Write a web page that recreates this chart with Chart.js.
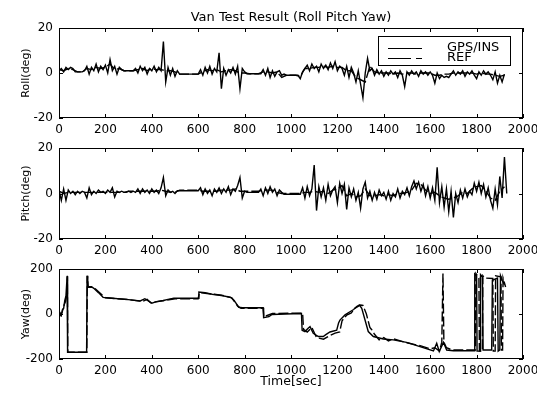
<!DOCTYPE html>
<html>

<head>
  <title>Van Test Result</title>
  <script src="https://cdn.jsdelivr.net/npm/chart.js"></script>
  <style>
    body { margin: 0; background: #fff; }
    #wrap { position: relative; width: 537px; height: 398px; }
    canvas { position: absolute; left: 0; }
  </style>
</head>

<body>
  <div id="wrap">
    <canvas id="rollChart" width="537" height="140" style="top:0px"></canvas>
    <canvas id="pitchChart" width="537" height="120" style="top:140px"></canvas>
    <canvas id="yawChart" width="537" height="138" style="top:260px"></canvas>
  </div>
  <script>
    // time grid for roll / pitch, 10 s steps (GPS/INS) and 20 s steps (REF)
    var time10 = [
      0, 10, 20, 30, 40, 50, 60, 70, 80, 90,
      100, 110, 120, 130, 140, 150, 160, 170, 180, 190,
      200, 210, 220, 230, 240, 250, 260, 270, 280, 290,
      300, 310, 320, 330, 340, 350, 360, 370, 380, 390,
      400, 410, 420, 430, 440, 450, 460, 470, 480, 490,
      500, 510, 520, 530, 540, 550, 560, 570, 580, 590,
      600, 610, 620, 630, 640, 650, 660, 670, 680, 690,
      700, 710, 720, 730, 740, 750, 760, 770, 780, 790,
      800, 810, 820, 830, 840, 850, 860, 870, 880, 890,
      900, 910, 920, 930, 940, 950, 960, 970, 980, 990,
      1000, 1010, 1020, 1030, 1040, 1050, 1060, 1070, 1080, 1090,
      1100, 1110, 1120, 1130, 1140, 1150, 1160, 1170, 1180, 1190,
      1200, 1210, 1220, 1230, 1240, 1250, 1260, 1270, 1280, 1290,
      1300, 1310, 1320, 1330, 1340, 1350, 1360, 1370, 1380, 1390,
      1400, 1410, 1420, 1430, 1440, 1450, 1460, 1470, 1480, 1490,
      1500, 1510, 1520, 1530, 1540, 1550, 1560, 1570, 1580, 1590,
      1600, 1610, 1620, 1630, 1640, 1650, 1660, 1670, 1680, 1690,
      1700, 1710, 1720, 1730, 1740, 1750, 1760, 1770, 1780, 1790,
      1800, 1810, 1820, 1830, 1840, 1850, 1860, 1870, 1880, 1890,
      1900, 1910, 1920, 1930
    ];
    var time20 = [
      0, 20, 40, 60, 80, 100, 120, 140, 160, 180,
      200, 220, 240, 260, 280, 300, 320, 340, 360, 380,
      400, 420, 440, 460, 480, 500, 520, 540, 560, 580,
      600, 620, 640, 660, 680, 700, 720, 740, 760, 780,
      800, 820, 840, 860, 880, 900, 920, 940, 960, 980,
      1000, 1020, 1040, 1060, 1080, 1100, 1120, 1140, 1160, 1180,
      1200, 1220, 1240, 1260, 1280, 1300, 1320, 1340, 1360, 1380,
      1400, 1420, 1440, 1460, 1480, 1500, 1520, 1540, 1560, 1580,
      1600, 1620, 1640, 1660, 1680, 1700, 1720, 1740, 1760, 1780,
      1800, 1820, 1840, 1860, 1880, 1900, 1920
    ];

    // Roll (deg)
    var rollGps = [
      1, 2, 0.5, 2.5, 1.5, 2.5, 2, 0.5, 0.5, 0.5,
      0.5, 1, 3, -0.5, 2.5, 1, 4, 0.5, 3, 1.5,
      3.5, 0, 6, 1, 3, -0.5, 2.5, 1.5, 1, 1,
      1, 1, 1, 2, 0, 3, 1, 2.5, -0.5, 2,
      1, 3, 0.5, 2.5, 1, 14, -4, 2.5, -1, 2,
      -1.5, 1, -0.5, -0.5, -0.5, -0.5, -0.5, -0.5, -0.5, -0.5,
      -0.5, 1.5, -1, 2.5, 0, 3, -0.5, 2, 0.5, 9,
      -7, 2, -1, 1.5, 0, 2.5, -0.5, 3, -7, 2,
      0.5, -0.3, -0.3, -0.3, -0.3, -0.3, -0.3, -0.3, 1.5, -1,
      2, -2, 1, -1.5, 0.5, 1, -1, -0.5, -1, -1,
      -1, -1, -1, -1, -2.5, 0.5, 2, 3.5, 1, 4,
      2, 3, 0.5, 4, 2, 3.5, 1.5, 4.5, 2, 5,
      1, 3, 2, -1, 3, -2, 2.5, 0, -4, 1,
      -5, -11, 0, 6.5, 1, 2, -1, 1.5, -0.5, 1,
      -1.5, 0.5, -1, 1, -0.5, 0.5, -2, 1, -1, -6,
      0.5, -1, 1, -0.5, 0.5, -1.5, 1, -0.5, 0.5, -1,
      0.5, -1, -4.5, 0, -2.5, -1, -2, -1.5, -2, -0.5,
      1, -1, 0.5, -0.5, 1, -1.5, 0.5, -0.5, 1, -1,
      -2.5, 0.5, -1, 1, -0.5, 0.5, -1, -3, 0.5, -4.5,
      -1, -4, -0.5
    ];
    var rollRef = [
      1.5, 1, 2, 1.5, 0.5, 0.5, 2, 1.5, 2.5, 2,
      2.5, 4, 1.5, 2, 1, 1, 1, 1.5, 2, 1,
      2, 1.5, 1.5, 1, 1, 0.5, -0.5, -0.5, -0.5, -0.5,
      -0.5, 0.5, 1.5, 1, 1.5, 0.5, 1, 1.5, 1, 0,
      0, -0.3, -0.3, -0.3, 0.5, 0.5, 0, 0.5, -2, -1,
      -1, -1, -1.5, 2, 2, 2.5, 2.5, 3, 2.5, 3,
      2.5, 2.5, 1, 1, -2, -3, -4, 3, 0.5, 0,
      0, 0, -0.5, 0, -0.5, 0, 0, -0.5, 0, 0,
      0, -1, -1, -0.5, -0.5, 0, 0, 0, 0, 0,
      -0.5, 0, -0.5, -0.5, -1, -1.5, -1
    ];

    // Pitch (deg)
    var pitchGps = [
      1.5, -3, 2, -3, 1.5, 0, 1, -0.5, 1, 0,
      1, 0.5, -2, 2.5, -0.5, 1, 0, 1.5, 0.5, 1,
      0, 1.5, 0.5, 2.5, -1.5, 1, 0.5, 1, 0.5, 0.5,
      1, 0.5, 1, 0.5, 2, 0, 2, 0.5, 1.5, 0,
      2, 0.5, 1.5, 0, 2.5, 7, -1, 1.5, 0.5, 1,
      0, 1.2, 1.2, 1.2, 1.2, 1.2, 1.2, 1.2, 1.2, 1.2,
      1.2, 2.5, -0.5, 2, 0, 1.5, -1, 2, 0.5, 2.5,
      0, 2, 0.5, 3, -0.5, 2, 1, 3.5, 7, -2,
      1, 0.5, 0.5, 0.5, 0.5, 0.5, 0.5, 2, -1, 2.5,
      0, 3, 0.5, 2, -1, 1.5, 0.5, -0.3, -0.3, -0.3,
      -0.3, -0.3, -0.3, -0.3, -0.3, 2.5, -2, 3, -1, 2,
      12.5, -7.5, 3, -1.5, 2.5, -3, 4, -1, 1.5, 3,
      -4, 4.5, 0, 4, -7, 2.5, -1.5, 2, -3, 0.5,
      -6.5, 2, 5, -2, 1, -3, 0.5, -2.5, 1.5, -1,
      0.5, -2.5, 1, -3, 0, -1.5, 2, -2, 1, -0.5,
      2.5, -1, 3, 5.5, 2, 5, 1, 4, -1, 3,
      -2, 2.5, -3, 11.5, -4, 3, -6, 2, -8, 1,
      -10.5, 0, -4, 1.5, -2, 2, -1.5, 1, -0.5, 4.5,
      1, 5, 0, 4, -1.5, 2.5, -3, -6.5, 2, -5,
      7.5, -2, 16, 0
    ];
    var pitchRef = [
      1, 0, 0.5, 0.5, 0.5, 0.5, 0.5, 0.5, 0.5, 0.5,
      0.5, 0.5, 0.5, 0.5, 0.5, 1, 1, 1, 1, 1,
      1, 1, 1.5, 1, 0.5, 0.5, 1.5, 1.5, 1.5, 1.5,
      1.5, 1, 1, 1, 1, 1.5, 1.5, 1.5, 2, 1,
      1, 1, 1, 1, 1.5, 1.5, 1.5, 0.5, 0, 0,
      0, 0, 0, 0.5, 0.5, 1, 0.5, 1, 0, 1.5,
      2, 3.5, -1, 0, -1.5, -1, 2, -1, -1, -0.5,
      -1, -0.5, -1, 0, 0, 0.5, 1.5, 4.5, 4, 1.5,
      0, 0.5, -1, -2, -2.5, -2, -1, 0.5, 0, 2,
      3, 3.5, 1, -2, -3, 1, 3
    ];

    // Yaw (deg), uneven time stamps because of the +/-180 wraps
    var yawGpsTime = [
      0, 5, 10, 15, 20, 25, 30, 35, 37, 60, 90, 119, 121, 124, 140, 150, 170, 190,
      230, 290, 350, 370, 380, 400, 420, 450, 470, 495, 600, 603, 630, 660, 700,
      740, 755, 765, 775, 790, 880, 882, 905, 918, 975, 1045, 1048, 1060, 1075,
      1082, 1096, 1118, 1139, 1150, 1168, 1197, 1205, 1211, 1233, 1254, 1270, 1283,
      1295, 1305, 1320, 1333, 1355, 1398, 1441, 1498, 1556, 1614, 1628, 1639, 1657,
      1671, 1700, 1790, 1792, 1800, 1802, 1815, 1817, 1825, 1828, 1865, 1868, 1890,
      1893, 1900, 1903, 1910, 1920
    ];
    var yawGps = [
      -4, 5, -5, 20, 25, 60, 80, 168, -170, -170, -170, -170, 170, 122, 121, 114, 95, 74,
      70, 65, 58, 68, 62, 48, 55, 60, 65, 70, 70, 98, 95, 88, 82,
      74, 60, 45, 30, 28, 28, -16, -12, -2, 0, 2, -72, -78, -62,
      -56, -86, -100, -100, -92, -80, -72, -40, -27, -4, 10, 20, 33,
      40, 25, -30, -78, -100, -111, -115, -126, -145, -164, -130, -167, -126,
      -160, -163, -163, 178, 170, -165, -165, 175, 165, -160, -160, 150, 160,
      -165, -160, 170, 150, 130
    ];
    var yawRefTime = [
      0, 8, 14, 22, 28, 33, 36, 38, 120, 122, 126, 150, 200, 300, 360, 380, 395,
      500, 600, 605, 700, 745, 760, 770, 785, 880, 883, 920, 1050, 1054, 1070,
      1090, 1110, 1140, 1160, 1190, 1210, 1220, 1240, 1260, 1275, 1300, 1310, 1325,
      1340, 1348, 1360, 1380, 1400, 1420, 1440, 1500, 1560, 1600, 1620, 1640, 1650,
      1655, 1659, 1670, 1690, 1700, 1795, 1797, 1810, 1812, 1825, 1827, 1835, 1870,
      1872, 1880, 1882, 1905, 1907, 1912, 1914, 1925
    ];
    var yawRef = [
      0, -8, 10, 40, 55, 90, 170, -170, -170, 170, 120, 118, 72, 64, 56, 65, 50,
      68, 68, 95, 84, 72, 50, 35, 25, 25, -12, 2, 4, -68, -80,
      -60, -105, -112, -100, -85, -80, -30, -5, 5, 25, 40, 38, 0,
      -60, -70, -90, -115, -105, -120, -110, -128, -142, -155, -150, -165, -125,
      180, -125, -150, -158, -160, -160, 180, 160, -165, -165, 170, 160, 158,
      -165, -165, 170, 165, -160, -160, 160, 120
    ];

    var timeTicks = [0, 200, 400, 600, 800, 1000, 1200, 1400, 1600, 1800, 2000];

    Chart.defaults.font.family = "'DejaVu Sans', sans-serif";
    Chart.defaults.color = '#000';

    function pairs(xs, ys) {
      return ys.map(function (v, i) { return { x: xs[i], y: v }; });
    }

    // MATLAB style box with inward ticks on all four sides
    var framePlugin = {
      id: 'frame',
      afterDraw: function (chart) {
        var ctx = chart.ctx, a = chart.chartArea;
        var xs = chart.scales.x, ys = chart.scales.y;
        ctx.save();
        ctx.strokeStyle = '#000';
        ctx.lineWidth = 1;
        ctx.strokeRect(Math.round(a.left) + 0.5, Math.round(a.top) + 0.5,
          Math.round(a.width) - 1, Math.round(a.height) - 1);
        ctx.beginPath();
        xs.ticks.forEach(function (t) {
          var px = Math.round(xs.getPixelForValue(t.value)) + 0.5;
          ctx.moveTo(px, a.bottom); ctx.lineTo(px, a.bottom - 4);
          ctx.moveTo(px, a.top); ctx.lineTo(px, a.top + 4);
        });
        ys.ticks.forEach(function (t) {
          var py = Math.round(ys.getPixelForValue(t.value)) + 0.5;
          ctx.moveTo(a.left, py); ctx.lineTo(a.left + 4, py);
          ctx.moveTo(a.right, py); ctx.lineTo(a.right - 4, py);
        });
        ctx.stroke();
        ctx.restore();
      }
    };

    // boxed legend inside the top plot
    var legendPlugin = {
      id: 'boxLegend',
      afterDraw: function (chart) {
        var ctx = chart.ctx, a = chart.chartArea;
        var w = 132, h = 29;
        var left = Math.round(a.right - 13 - w), top = Math.round(a.top + 8);
        ctx.save();
        ctx.fillStyle = '#fff';
        ctx.fillRect(left, top, w, h);
        ctx.strokeStyle = '#000';
        ctx.lineWidth = 1;
        ctx.strokeRect(left + 0.5, top + 0.5, w, h);
        ctx.font = "13px 'DejaVu Sans'";
        ctx.textBaseline = 'middle';
        ctx.fillStyle = '#000';
        chart.data.datasets.forEach(function (ds, i) {
          var yy = top + 12 + i * 10;
          ctx.lineWidth = 1.2;
          ctx.setLineDash(i === 0 ? [] : [23, 5]);
          ctx.beginPath();
          ctx.moveTo(left + 10, yy + 0.5);
          ctx.lineTo(left + 44, yy + 0.5);
          ctx.stroke();
          ctx.setLineDash([]);
          ctx.fillText(ds.label, left + 69, yy);
        });
        ctx.restore();
      }
    };

    function plainNumber(v) {
      return String(v);
    }

    function xAxis(height, title) {
      return {
        type: 'linear',
        min: 0,
        max: 2000,
        afterBuildTicks: function (s) {
          s.ticks = timeTicks.map(function (v) { return { value: v }; });
        },
        ticks: { padding: 5, maxRotation: 0, autoSkip: false, font: { size: 12 }, callback: plainNumber },
        grid: { display: false, drawTicks: false },
        border: { display: false },
        title: title ? {
          display: true, text: title, font: { size: 12.5 },
          padding: { top: 8.5, bottom: 8.5 }
        } : { display: false },
        afterFit: function (s) {
          s.height = height;
          s.paddingLeft = 0;
          s.paddingRight = 0;
        }
      };
    }

    function yAxis(lim, title) {
      return {
        min: -lim,
        max: lim,
        ticks: { stepSize: lim, padding: 6, font: { size: 12 }, callback: plainNumber },
        grid: { display: false, drawTicks: false },
        border: { display: false },
        title: {
          display: true, text: title, font: { size: 11 },
          padding: { top: 20, bottom: 0 }
        },
        afterFit: function (s) {
          s.width = 59;
          s.paddingTop = 0;
          s.paddingBottom = 0;
        }
      };
    }

    function series(label, data, dashed) {
      return {
        label: label,
        data: data,
        borderColor: '#000',
        backgroundColor: '#000',
        borderWidth: 1.4,
        borderDash: dashed ? [10, 3] : [],
        pointRadius: 0,
        tension: 0,
        fill: false
      };
    }

    function makeChart(id, datasets, opts) {
      var plugins = [framePlugin];
      if (opts.legend) plugins.push(legendPlugin);
      return new Chart(document.getElementById(id).getContext('2d'), {
        type: 'line',
        data: { datasets: datasets },
        options: {
          responsive: false,
          animation: false,
          layout: { padding: { left: 0, right: 14, top: opts.padTop, bottom: 0 } },
          scales: { x: xAxis(opts.xHeight, opts.xTitle), y: yAxis(opts.lim, opts.yTitle) },
          plugins: {
            legend: { display: false },
            tooltip: { enabled: false },
            title: opts.title ? {
              display: true, text: opts.title, fullSize: false, color: '#000',
              font: { size: 13, weight: 'normal' },
              padding: { top: 10, bottom: 2.4 }
            } : { display: false }
          }
        },
        plugins: plugins
      });
    }

    makeChart('rollChart', [
      series('GPS/INS', pairs(time10, rollGps), false),
      series('REF', pairs(time20, rollRef), true)
    ], { padTop: 0, xHeight: 22, lim: 20, yTitle: 'Roll(deg)', title: 'Van Test Result (Roll Pitch Yaw)', legend: true });

    makeChart('pitchChart', [
      series('GPS/INS', pairs(time10, pitchGps), false),
      series('REF', pairs(time20, pitchRef), true)
    ], { padTop: 8, xHeight: 21, lim: 20, yTitle: 'Pitch(deg)' });

    makeChart('yawChart', [
      series('GPS/INS', pairs(yawGpsTime, yawGps), false),
      series('REF', pairs(yawRefTime, yawRef), true)
    ], { padTop: 9, xHeight: 39, lim: 200, yTitle: 'Yaw(deg)', xTitle: 'Time[sec]' });
  </script>
</body>

</html>
